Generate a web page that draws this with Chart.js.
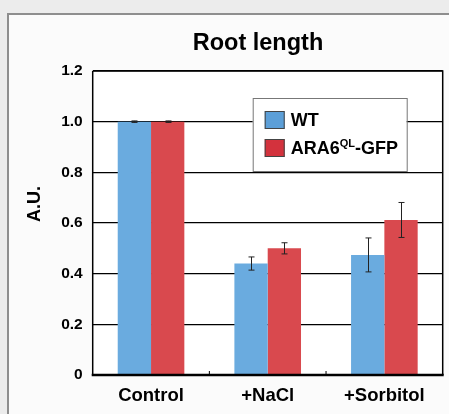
<!DOCTYPE html>
<html>
<head>
<meta charset="utf-8">
<script src="https://cdn.jsdelivr.net/npm/chart.js@4"></script>
<style>
  html, body { margin: 0; padding: 0; background: #ececec; }
  #wrap { width: 449px; height: 414px; }
</style>
</head>
<body>
<div id="wrap"><canvas id="chart" width="449" height="414"></canvas></div>
<script>
// Root length, relative to control
const categories = ['Control', '+NaCl', '+Sorbitol'];
const seriesNames = ['WT', 'ARA6QL-GFP'];
const wtValues = [1.0, 0.44, 0.474];
const wtErrors = [0.003, 0.026, 0.067];
const araValues = [1.0, 0.50, 0.612];
const araErrors = [0.003, 0.022, 0.069];
const yTicks = [0, 0.2, 0.4, 0.6, 0.8, 1.0, 1.2];

const FONT = '"Liberation Sans", Arial, Helvetica, sans-serif';
const BLUE = '#6aabdf';
const RED = '#d9494e';

// page background, panel frame, title, y label
const framePlugin = {
    id: 'frame',
    beforeDraw(chart) {
        const ctx = chart.ctx;
        const a = chart.chartArea;
        ctx.save();
        ctx.fillStyle = '#ececec';
        ctx.fillRect(0, 0, chart.width, chart.height);
        ctx.fillStyle = '#fbfbfb';
        ctx.fillRect(9, 15, chart.width - 9, chart.height - 15);
        ctx.strokeStyle = '#8e8e8e';
        ctx.lineWidth = 2;
        ctx.beginPath();
        ctx.moveTo(8, chart.height);
        ctx.lineTo(8, 14);
        ctx.lineTo(chart.width, 14);
        ctx.stroke();
        ctx.fillStyle = '#ffffff';
        ctx.fillRect(a.left, a.top, a.right - a.left, a.bottom - a.top);

        ctx.fillStyle = '#000';
        ctx.textAlign = 'center';
        ctx.textBaseline = 'middle';
        ctx.font = 'bold 23.5px ' + FONT;
        ctx.fillText('Root length', 258, 44);

        ctx.translate(35, 204);
        ctx.rotate(-Math.PI / 2);
        ctx.font = 'bold 18px ' + FONT;
        ctx.fillText('A.U.', 0, 0);
        ctx.restore();
    }
};

// error bars, borders, legend box
const overlayPlugin = {
    id: 'overlay',
    afterDatasetsDraw(chart) {
        const ctx = chart.ctx;
        const a = chart.chartArea;
        const y = chart.scales.y;
        const x = chart.scales.x;
        const errs = [wtErrors, araErrors];
        ctx.save();

        // error bars
        ctx.strokeStyle = '#222';
        ctx.lineWidth = 1;
        chart.data.datasets.forEach((ds, di) => {
            const meta = chart.getDatasetMeta(di);
            meta.data.forEach((bar, i) => {
                const v = ds.data[i];
                const e = errs[di][i];
                const top = y.getPixelForValue(v + e);
                const bot = y.getPixelForValue(v - e);
                const cx = Math.round(bar.x) + 0.5;
                ctx.beginPath();
                ctx.moveTo(cx, top);
                ctx.lineTo(cx, bot);
                ctx.moveTo(cx - 3, top);
                ctx.lineTo(cx + 3, top);
                ctx.moveTo(cx - 3, bot);
                ctx.lineTo(cx + 3, bot);
                ctx.stroke();
            });
        });

        // plot frame
        ctx.strokeStyle = '#000';
        ctx.lineWidth = 1.5;
        ctx.beginPath();
        ctx.moveTo(a.left, a.top);
        ctx.lineTo(a.right, a.top);
        ctx.lineTo(a.right, a.bottom);
        ctx.moveTo(a.left, a.top);
        ctx.lineTo(a.left, a.bottom);
        ctx.stroke();
        ctx.lineWidth = 2.5;
        ctx.beginPath();
        ctx.moveTo(a.left - 1, a.bottom);
        ctx.lineTo(a.right + 1, a.bottom);
        ctx.stroke();

        // small inward ticks between categories
        ctx.lineWidth = 1;
        for (let i = 0; i < categories.length - 1; i++) {
            const bx = (x.getPixelForValue(i) + x.getPixelForValue(i + 1)) / 2;
            ctx.beginPath();
            ctx.moveTo(bx, a.bottom);
            ctx.lineTo(bx, a.bottom - 4);
            ctx.stroke();
        }

        // legend
        const lx = a.left + 160;
        const ly = a.top + 27;
        ctx.fillStyle = '#ffffff';
        ctx.fillRect(lx, ly, 154, 73);
        ctx.strokeStyle = '#777';
        ctx.lineWidth = 1;
        ctx.strokeRect(lx + 0.5, ly + 0.5, 154, 73);

        const rows = [ly + 22, ly + 50];
        ctx.textBaseline = 'middle';
        ctx.textAlign = 'left';
        rows.forEach((ry, i) => {
            ctx.fillStyle = i === 0 ? '#5c9fd8' : '#d3323d';
            ctx.fillRect(lx + 12, ry - 9, 20, 18);
            ctx.strokeStyle = '#444';
            ctx.strokeRect(lx + 12.5, ry - 8.5, 19, 17);
        });
        ctx.fillStyle = '#000';
        ctx.font = 'bold 18px ' + FONT;
        ctx.fillText(seriesNames[0], lx + 38, rows[0] + 1);
        let tx = lx + 38;
        ctx.fillText('ARA6', tx, rows[1] + 1);
        tx += ctx.measureText('ARA6').width;
        ctx.font = 'bold 11px ' + FONT;
        ctx.fillText('QL', tx, rows[1] - 4);
        tx += ctx.measureText('QL').width;
        ctx.font = 'bold 18px ' + FONT;
        ctx.fillText('-GFP', tx, rows[1] + 1);
        ctx.restore();
    }
};

new Chart(document.getElementById('chart'), {
    type: 'bar',
    data: {
        labels: categories,
        datasets: [
            { label: seriesNames[0], data: wtValues, backgroundColor: BLUE, borderWidth: 0 },
            { label: seriesNames[1], data: araValues, backgroundColor: RED, borderWidth: 0 }
        ]
    },
    options: {
        responsive: false,
        animation: false,
        devicePixelRatio: 1,
        layout: { padding: { top: 71, right: 6.3, left: 0, bottom: 0 } },
        plugins: {
            legend: { display: false },
            title: { display: false },
            tooltip: { enabled: false }
        },
        datasets: {
            bar: { categoryPercentage: 0.571, barPercentage: 1.0 }
        },
        scales: {
            x: {
                grid: { display: false },
                border: { display: false },
                ticks: {
                    color: '#000',
                    padding: 2,
                    font: { family: FONT, size: 18.5, weight: 'bold' }
                },
                afterFit(scale) { scale.height = 39; }
            },
            y: {
                min: 0,
                max: 1.2,
                afterBuildTicks(scale) { scale.ticks = yTicks.map(v => ({ value: v })); },
                grid: { color: '#000', lineWidth: 1.3, drawTicks: false },
                border: { display: false },
                ticks: {
                    color: '#000',
                    padding: 10,
                    font: { family: FONT, size: 15.5, weight: 'bold' },
                    callback: v => (v === 0 ? '0' : v.toFixed(1))
                },
                afterFit(scale) { scale.width = 92.7; }
            }
        }
    },
    plugins: [framePlugin, overlayPlugin]
});
</script>
</body>
</html>
